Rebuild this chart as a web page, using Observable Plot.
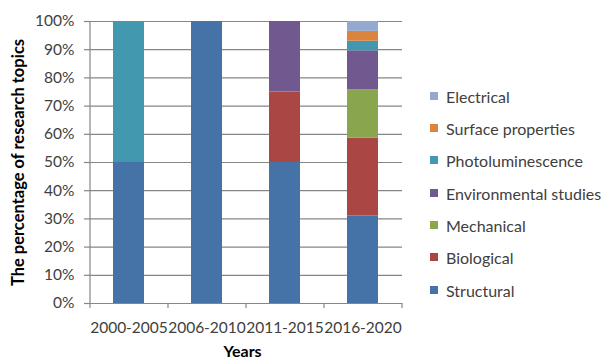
<!DOCTYPE html>
<html>
<head>
<meta charset="utf-8">
<script src="https://cdn.jsdelivr.net/npm/d3@7"></script>
<script src="https://cdn.jsdelivr.net/npm/@observablehq/plot@0.6"></script>
<style>
  body { margin: 0; background: #fff; font-family: Lato, "Open Sans", sans-serif; }
  #wrap { position: relative; width: 608px; height: 360px; }
  #legend { position: absolute; left: 430px; top: 0; }
  .li { position: absolute; left: 0; white-space: nowrap; font-size: 16px; color: #404040; display: flex; align-items: center; }
  .sw { width: 8px; height: 8px; margin-right: 8px; display: inline-block; }
</style>
</head>
<body>
<div id="wrap"><div id="chart"></div><div id="legend"></div></div>
<script>
const years = ["2000-2005", "2006-2010", "2011-2015", "2016-2020"];
const topics = ["Structural", "Biological", "Mechanical", "Environmental studies", "Photoluminescence", "Surface properties", "Electrical"];
const colors = ["#4572A7", "#AA4643", "#89A54E", "#71588F", "#4198AF", "#DB843D", "#93A9CF"];
// percentages per topic, one value per period
const structural = [50, 100, 50, 31.0];
const biological = [0, 0, 25, 27.6];
const mechanical = [0, 0, 0, 17.2];
const environmental = [0, 0, 25, 13.8];
const photoluminescence = [50, 0, 0, 3.4];
const surface = [0, 0, 0, 3.5];
const electrical = [0, 0, 0, 3.5];
const yTicks = [0, 10, 20, 30, 40, 50, 60, 70, 80, 90, 100];

const series = [structural, biological, mechanical, environmental, photoluminescence, surface, electrical];
const rows = [];
years.forEach((yr, i) => topics.forEach((t, j) => rows.push({year: yr, topic: t, value: series[j][i]})));

const gray = "#868686";
const step = 78;
const chart = Plot.plot({
  width: 608, height: 360,
  marginLeft: 90, marginRight: 206, marginTop: 21, marginBottom: 57,
  style: {fontFamily: "Lato, 'Open Sans', sans-serif", fontSize: "15.5px", color: "#404040", background: "#fff"},
  x: {domain: years, paddingInner: 0.6, paddingOuter: 0.3, label: null, tickSize: 0, tickPadding: 18},
  y: {domain: [0, 100], label: null},
  color: {domain: topics, range: colors},
  marks: [
    Plot.gridY(yTicks, {stroke: gray, strokeOpacity: 1, strokeWidth: 1.2}),
    Plot.axisY({ticks: yTicks, tickFormat: d => d + "%", tickSize: 6, tickPadding: 10, stroke: gray, strokeWidth: 1.2, label: null}),
    Plot.barY(rows, {x: "year", y: "value", fill: "topic", order: null}),
    Plot.ruleY([0], {stroke: gray, strokeWidth: 1.2}),
    Plot.ruleX([years[0]], {stroke: gray, strokeWidth: 1.2, dx: -step / 2, y1: 0, y2: 100}),
    Plot.ruleX(years, {stroke: gray, strokeWidth: 1.2, dx: -step / 2, y1: 0, y2: -1.8}),
    Plot.ruleX([years[years.length - 1]], {stroke: gray, strokeWidth: 1.2, dx: step / 2, y1: 0, y2: -1.8}),
    Plot.text(["The percentage of research topics"], {frameAnchor: "left", textAnchor: "middle", rotate: -90, dx: -72, fontWeight: "bold", fontSize: 16.5, fill: "#000"}),
    Plot.text(["Years"], {frameAnchor: "bottom", dy: 53, dx: -4, fontWeight: "bold", fontSize: 16, fill: "#000"})
  ]
});
document.getElementById("chart").appendChild(chart);

const legend = document.getElementById("legend");
const tops = {"Electrical": 97, "Surface properties": 129, "Photoluminescence": 161, "Environmental studies": 194, "Mechanical": 226, "Biological": 258, "Structural": 291};
topics.slice().reverse().forEach((t) => {
  const j = topics.indexOf(t);
  const d = document.createElement("div");
  d.className = "li";
  d.style.top = (tops[t] - 11) + "px";
  d.style.height = "20px";
  d.innerHTML = `<span class="sw" style="background:${colors[j]}"></span><span>${t}</span>`;
  legend.appendChild(d);
});
</script>
</body>
</html>
